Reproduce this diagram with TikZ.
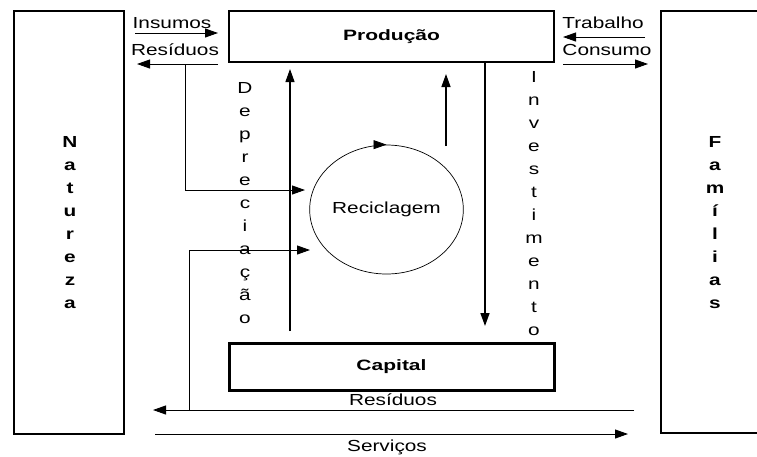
\documentclass[tikz,border=0pt]{standalone}
\usepackage{fontspec}
\setmainfont{Liberation Sans}
\newfontfamily\widefont{Liberation Sans}[FakeStretch=1.3]
\newfontfamily\widebold{Liberation Sans}[FakeStretch=1.4]
\usetikzlibrary{arrows.meta,shapes.geometric}
\begin{document}
\begin{tikzpicture}[x=1pt,y=-1pt,
  lbl/.style={font=\widefont\fontsize{16}{19}\selectfont, inner sep=0pt},
  titletext/.style={font=\widebold\bfseries\fontsize{15}{18}\selectfont},
  vcol/.style={align=center, inner sep=0pt, font=\widefont\fontsize{16}{23}\selectfont},
  vcolbf/.style={align=center, inner sep=0pt, font=\widefont\bfseries\fontsize{16}{23}\selectfont},
  box/.style={draw, line width=2.5pt, inner sep=0pt},
  flow/.style={line width=0.9pt, -{Triangle[length=13pt,width=9pt]}},
  heavy/.style={line width=1.6pt, -{Triangle[length=13pt,width=9pt]}}]
\useasboundingbox[fill=white] (0,0) rectangle (757,456);

% sectors
\node[box, minimum width=110pt, minimum height=423pt] (natbox) at (69,222.5) {};
\node[vcolbf] (nat) at (70,223) {N\\a\\t\\u\\r\\e\\z\\a};
\draw[line width=2.5pt] (758,11) -| (661,433) -- (758,433);
\node[vcolbf] (fam) at (715,223) {F\\a\\m\\í\\l\\i\\a\\s};

\node[box, line width=2pt, minimum width=325pt, minimum height=51pt, titletext] (prod) at (391.5,36.5) {Produção};
\node[box, line width=3pt, minimum width=325pt, minimum height=47pt, titletext] (cap) at (391.5,366.5) {Capital};
\node[draw, ellipse, line width=0.7pt, minimum width=151pt, minimum height=129pt, inner sep=0pt, lbl] (reci) at (386.5,209.5) {Reciclagem};

% exchanges with nature
\coordinate (insA) at (135,33);  \coordinate (insB) at (218,33);
\coordinate (resA) at (218,64);  \coordinate (resB) at (137,64);
\node[lbl] (insT) at (172,23) {Insumos};
\node[lbl] (resT) at (175,50) {Resíduos};
\draw[flow] (insA) -- (insB);
\draw[flow] (resA) -- (resB);
\coordinate (brTop) at (185,64);
\coordinate (brEnd) at (305,190);
\draw[flow] (brTop) |- (brEnd);

% exchanges with households
\coordinate (trA) at (645,37);  \coordinate (trB) at (563,37);
\coordinate (coA) at (563,64);  \coordinate (coB) at (648,64);
\node[lbl] (trT) at (603,23) {Trabalho};
\node[lbl] (coT) at (607,50) {Consumo};
\draw[flow] (trA) -- (trB);
\draw[flow] (coA) -- (coB);

% depreciation
\coordinate (depA) at (290,331); \coordinate (depB) at (290,69);
\draw[flow, line width=1.2pt] (depA) -- (depB);
\node[vcol] (dep) at (245,203) {D\\e\\p\\r\\e\\c\\i\\a\\ç\\ã\\o};

% recycling
\coordinate (recUp) at (446,146); \coordinate (recTip) at (446,74);
\draw[heavy, line width=1.4pt] (recUp) -- (recTip);
\draw[-{Triangle[length=13pt,width=9pt]}, line width=0.7pt] ([xshift=-12pt]reci.north) -- (reci.north);

% investment
\coordinate (invx) at (485,0);
\coordinate (invEnd) at (485,326);
\draw[heavy] (prod.south -| invx) -- (invEnd);
\node[vcol] (inv) at (534,203.5) {I\\n\\v\\e\\s\\t\\i\\m\\e\\n\\t\\o};

% bottom flows
\coordinate (rbA) at (634,410); \coordinate (rbB) at (153,410);
\coordinate (svA) at (155,434); \coordinate (svB) at (628,434);
\draw[flow] (rbA) -- (rbB);
\draw[flow] (svA) -- (svB);
\node[lbl] (rbT) at (393,400) {Resíduos};
\node[lbl] (svT) at (387,447) {Serviços};
\coordinate (loopStart) at (189,410);
\coordinate (loopEnd) at (310,250);
\draw[flow] (loopStart) |- (loopEnd);
\end{tikzpicture}
\end{document}
